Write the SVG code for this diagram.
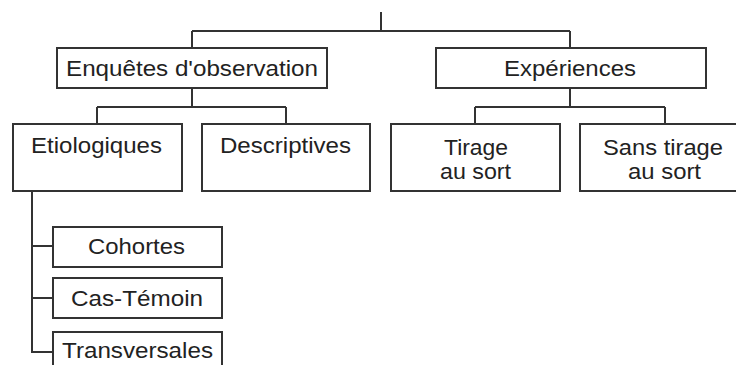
<svg xmlns="http://www.w3.org/2000/svg" width="736" height="365" viewBox="0 0 736 365">
<style>
.box{fill:#fff;stroke:#333;stroke-width:2}
.c{fill:none;stroke:#333;stroke-width:2}
text{font-family:"Liberation Sans",Arial,sans-serif;font-size:22px;fill:#222;text-anchor:middle}
</style>
<rect width="736" height="365" fill="#fff"/>
<g id="connectors">
<path class="c" d="M381 12V31M192 31H570M192 31V48M570 31V48"/>
<path class="c" d="M192 88V107M97 107H286M97 107V124M286 107V124"/>
<path class="c" d="M570 88V107M475 107H665M475 107V124M665 107V124"/>
<path class="c" d="M32 191V352H53M32 246H53M32 298H53"/>
</g>
<g id="enquetes"><rect class="box" x="57" y="48" width="270" height="40"/><text x="192" y="75.5" textLength="252" lengthAdjust="spacingAndGlyphs">Enquêtes d'observation</text></g>
<g id="experiences"><rect class="box" x="436" y="48" width="270" height="40"/><text x="570" y="75.5" textLength="132" lengthAdjust="spacingAndGlyphs">Expériences</text></g>
<g id="etiologiques"><rect class="box" x="13" y="124" width="169" height="67"/><text x="96.5" y="152.5" textLength="131" lengthAdjust="spacingAndGlyphs">Etiologiques</text></g>
<g id="descriptives"><rect class="box" x="202" y="124" width="168" height="67"/><text x="285.5" y="152.5" textLength="131" lengthAdjust="spacingAndGlyphs">Descriptives</text></g>
<g id="tirage"><rect class="box" x="391" y="124" width="169" height="67"/><text x="476" y="155" textLength="64" lengthAdjust="spacingAndGlyphs">Tirage</text><text x="475.5" y="179" textLength="71" lengthAdjust="spacingAndGlyphs">au sort</text></g>
<g id="sanstirage"><rect class="box" x="580" y="124" width="169" height="67"/><text x="663" y="155" textLength="120" lengthAdjust="spacingAndGlyphs">Sans tirage</text><text x="664.5" y="179" textLength="73" lengthAdjust="spacingAndGlyphs">au sort</text></g>
<g id="cohortes"><rect class="box" x="53" y="227" width="169" height="40"/><text x="136.5" y="254" textLength="97" lengthAdjust="spacingAndGlyphs">Cohortes</text></g>
<g id="castemoin"><rect class="box" x="53" y="278" width="169" height="40"/><text x="137" y="306" textLength="132" lengthAdjust="spacingAndGlyphs">Cas-Témoin</text></g>
<g id="transversales"><rect class="box" x="53" y="332" width="169" height="40"/><text x="137.5" y="357.5" textLength="151" lengthAdjust="spacingAndGlyphs">Transversales</text></g>
</svg>
